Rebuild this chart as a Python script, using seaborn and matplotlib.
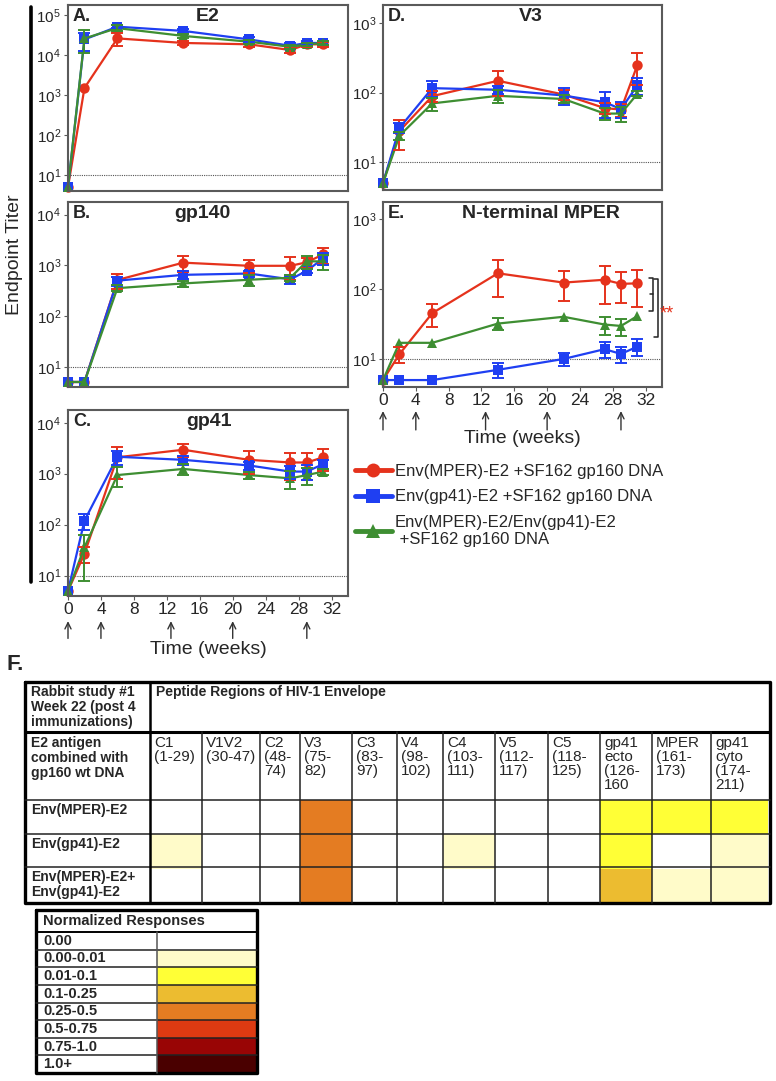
import numpy as np
import pandas as pd
import matplotlib.pyplot as plt
import seaborn as sns
from matplotlib.colors import ListedColormap
from matplotlib.ticker import NullLocator

sns.set_style("ticks")
plt.rcParams['font.family'] = ['Liberation Sans', 'DejaVu Sans']
plt.rcParams['mathtext.fontset'] = 'custom'
plt.rcParams['mathtext.rm'] = 'Liberation Sans'
plt.rcParams['mathtext.it'] = 'Liberation Sans:italic'
plt.rcParams['mathtext.bf'] = 'Liberation Sans:bold'

# ---- time course data (endpoint titers, mean and error) ----
weeks = [0, 2, 6, 14, 22, 27, 29, 31]
immunization_weeks = [0, 4, 12.5, 20, 29]
groups = ["Env(MPER)-E2 +SF162 gp160 DNA",
          "Env(gp41)-E2 +SF162 gp160 DNA",
          "Env(MPER)-E2/Env(gp41)-E2\n +SF162 gp160 DNA"]
colors = ["#e5321c", "#1f3ff2", "#3e8e32"]
markers = ["o", "s", "^"]

# A. E2
e2_mper = [5, 1500, 26000, 20000, 18500, 13300, 18500, 18500]
e2_mper_err = [0, 0, 9000, 2500, 2500, 2000, 2500, 2500]
e2_gp41 = [5, 24500, 51000, 40000, 24500, 17000, 20000, 20000]
e2_gp41_err = [0, 12000, 5000, 4000, 3000, 2500, 2500, 2500]
e2_mix = [5, 26000, 47000, 30000, 21500, 16000, 18500, 20000]
e2_mix_err = [0, 15000, 8000, 3000, 2500, 2000, 2000, 2500]

# B. gp140
gp140_mper = [5, 5, 515, 1130, 980, 980, 1150, 1650]
gp140_mper_err = [0, 0, 175, 380, 270, 470, 250, 580]
gp140_gp41 = [5, 5, 500, 650, 690, 530, 780, 1380]
gp140_gp41_err = [0, 0, 100, 120, 100, 100, 80, 350]
gp140_mix = [5, 5, 355, 440, 520, 570, 1200, 1200]
gp140_mix_err = [0, 0, 50, 60, 120, 80, 350, 400]

# C. gp41
gp41_mper = [5, 27, 2100, 2950, 1870, 1660, 1660, 2100]
gp41_mper_err = [0, 9, 1300, 800, 900, 900, 900, 950]
gp41_gp41 = [5, 120, 2150, 1870, 1450, 1100, 1100, 1550]
gp41_gp41_err = [0, 40, 700, 400, 250, 300, 350, 300]
gp41_mix = [5, 36, 940, 1240, 940, 810, 940, 1100]
gp41_mix_err = [0, 28, 400, 300, 150, 300, 350, 150]

# D. V3
v3_mper = [5, 28, 89, 148, 94, 60, 57, 250]
v3_mper_err = [0, 13, 15, 60, 15, 10, 12, 120]
v3_gp41 = [5, 31, 116, 110, 91, 73, 58, 127]
v3_gp41_err = [0, 5, 30, 15, 25, 30, 15, 35]
v3_mix = [5, 24, 70, 90, 81, 50, 50, 96]
v3_mix_err = [0, 3, 15, 20, 10, 10, 12, 8]

# E. N-terminal MPER
mper_mper = [5, 11.7, 45, 167, 123, 135, 118, 120]
mper_mper_err = [0, 3, 16, 90, 55, 75, 55, 65]
mper_gp41 = [5, 5, 5, 7, 10, 13.8, 11.8, 15]
mper_gp41_err = [0, 0, 0, 1.7, 2, 3.5, 3, 4]
mper_mix = [5, 17, 17, 32, 40, 31, 29.6, 41]
mper_mix_err = [0, 0, 0, 6, 0, 9, 8, 0]

# ---- peptide heat map (F.) ----
region_labels = ["C1\n(1-29)", "V1V2\n(30-47)", "C2\n(48-\n74)", "V3\n(75-\n82)",
                 "C3\n(83-\n97)", "V4\n(98-\n102)", "C4\n(103-\n111)", "V5\n(112-\n117)",
                 "C5\n(118-\n125)", "gp41\necto\n(126-\n160", "MPER\n(161-\n173)",
                 "gp41\ncyto\n(174-\n211)"]
antigen_labels = ["Env(MPER)-E2", "Env(gp41)-E2", "Env(MPER)-E2+\nEnv(gp41)-E2"]
# response level index into the legend bins
resp_mper = [0, 0, 0, 4, 0, 0, 0, 0, 0, 2, 2, 2]
resp_gp41 = [1, 0, 0, 4, 0, 0, 1, 0, 0, 2, 0, 1]
resp_mix = [0, 0, 0, 4, 0, 0, 0, 0, 0, 3, 1, 1]
bin_labels = ["0.00", "0.00-0.01", "0.01-0.1", "0.1-0.25", "0.25-0.5",
              "0.5-0.75", "0.75-1.0", "1.0+"]
bin_colors = ["#ffffff", "#fffbc9", "#ffff36", "#ecbc30", "#e47c22",
              "#dd3a12", "#990505", "#4a0000"]

W, H = 776, 1081
fig = plt.figure(figsize=(W / 100, H / 100), dpi=100)


def rect(x0, y0, x1, y1):
    return [x0 / W, 1 - y1 / H, (x1 - x0) / W, (y1 - y0) / H]


def panel(box, letter, title, title_x, series, ylim, bottom_axis, time_y, arrow_y):
    ax = fig.add_axes(rect(*box))
    rows = []
    for g, (vals, errs) in zip(groups, series):
        for w, v, e in zip(weeks, vals, errs):
            rows.append((w, v, e, g))
    df = pd.DataFrame(rows, columns=["week", "titer", "err", "group"])
    sns.lineplot(data=df, x="week", y="titer", hue="group", style="group",
                 hue_order=groups, style_order=groups, palette=colors,
                 markers=markers, dashes=False, lw=1.6, markersize=7.5,
                 markeredgewidth=0, ax=ax, legend=bottom_axis and letter == "E.")
    for g, c in zip(groups, colors):
        d = df[(df.group == g) & (df.err > 0)]
        ax.errorbar(d.week, d.titer, yerr=d.err, fmt="none", ecolor=c,
                    elinewidth=1.4, capsize=4, capthick=1.4)
    for ln in ax.lines:
        ln.set_clip_on(False)
    ax.set_yscale("log")
    ax.set_ylim(*ylim)
    ax.set_xlim(0, 34)
    ax.yaxis.set_minor_locator(NullLocator())
    ax.axhline(10, color="#555555", lw=0.8, ls=(0, (1, 1)), zorder=0)
    ax.set_xlabel("")
    ax.set_ylabel("")
    for s in ax.spines.values():
        s.set_color("#5a5a5a")
        s.set_linewidth(1.5)
    ax.tick_params(axis="y", labelsize=11, length=3, pad=2, color="#5a5a5a")
    if bottom_axis:
        ax.set_xticks(range(0, 33, 4))
        ax.tick_params(axis="x", labelsize=12.5, length=3, pad=1.5, color="#5a5a5a")
        for w in immunization_weeks:
            ax.annotate("", xy=(w, arrow_y[0]), xytext=(w, arrow_y[1]),
                        xycoords=("data", "axes fraction"),
                        arrowprops=dict(arrowstyle="->,head_length=0.45,head_width=0.22",
                                        lw=1, color="#333333", shrinkA=0, shrinkB=0))
        ax.text(0.5, time_y, "Time (weeks)", transform=ax.transAxes,
                ha="center", va="center", fontsize=14)
    else:
        ax.set_xticks([])
    ax.text(0.018, 0.94, letter, transform=ax.transAxes, fontsize=13,
            fontweight="bold", va="center", ha="left")
    ax.text(title_x, 0.94, title, transform=ax.transAxes, fontsize=14,
            fontweight="bold", va="center", ha="center")
    return ax


panel((68, 5, 348, 191), "A.", "E2", 0.5,
      [(e2_mper, e2_mper_err), (e2_gp41, e2_gp41_err), (e2_mix, e2_mix_err)],
      (10 ** 0.6, 10 ** 5.25), False, 0, None)
panel((68, 202, 348, 387), "B.", "gp140", 0.48,
      [(gp140_mper, gp140_mper_err), (gp140_gp41, gp140_gp41_err), (gp140_mix, gp140_mix_err)],
      (10 ** 0.6, 10 ** 4.25), False, 0, None)
panel((68, 410, 348, 596), "C.", "gp41", 0.505,
      [(gp41_mper, gp41_mper_err), (gp41_gp41, gp41_gp41_err), (gp41_mix, gp41_mix_err)],
      (10 ** 0.6, 10 ** 4.25), True, -0.285, (-0.135, -0.228))
panel((383, 5, 662, 190), "D.", "V3", 0.53,
      [(v3_mper, v3_mper_err), (v3_gp41, v3_gp41_err), (v3_mix, v3_mix_err)],
      (10 ** 0.6, 10 ** 3.26), False, 0, None)
axE = panel((383, 202, 662, 387), "E.", "N-terminal MPER", 0.566,
            [(mper_mper, mper_mper_err), (mper_gp41, mper_gp41_err), (mper_mix, mper_mix_err)],
            (10 ** 0.6, 10 ** 3.24), True, -0.276, (-0.13, -0.232))

# legend moved to the figure
handles, labels = axE.get_legend_handles_labels()
axE.get_legend().remove()
leg = fig.legend(handles, labels, loc="upper left", bbox_to_anchor=(355 / W, 1 - 464 / H),
                 frameon=False, fontsize=12, handlelength=2.2, handletextpad=0.2,
                 borderpad=0, borderaxespad=0, labelspacing=0.62)
for h in leg.legend_handles:
    h.set_linewidth(3.5)
    h.set_markersize(10)

# overlay in pixel coordinates for annotations and table grid
ov = fig.add_axes([0, 0, 1, 1], zorder=10)
ov.set_xlim(0, W)
ov.set_ylim(H, 0)
ov.axis("off")
ov.patch.set_alpha(0)

# y label and bar
ov.plot([31, 31], [7, 582], color="black", lw=2.6)
ov.text(15, 255, "Endpoint Titer", rotation=90, fontsize=14, ha="center", va="center")

# significance brackets in panel E
ov.plot([649, 653, 653, 649], [278, 278, 311, 311], color="#222222", lw=1.1)
ov.plot([650, 653], [294, 294], color="#222222", lw=1.1)
ov.plot([654, 658, 658, 654], [279, 279, 337, 337], color="#222222", lw=1.1)
ov.text(660, 314, "**", color="#e5321c", fontsize=13, ha="left", va="center")

# ---- F. table ----
ov.text(7, 664, "F.", fontsize=16, fontweight="bold", va="center", ha="left")
col_widths = [52, 58, 40, 52, 45, 46, 52, 53, 52, 52, 59, 57]
cx0, cy0, cx1, cy1 = 150, 800, 768, 903
levels = np.array([resp_mper, resp_gp41, resp_mix])
cmap = ListedColormap(bin_colors)
axF = fig.add_axes(rect(cx0, cy0, cx1, cy1))
sns.heatmap(np.repeat(levels, col_widths, axis=1), cmap=cmap, vmin=-0.5, vmax=7.5,
            cbar=False, xticklabels=False, yticklabels=False, ax=axF)

edges = np.concatenate([[0], np.cumsum(col_widths)]) + cx0
row_lines = [800, 834, 867]
ov.plot([25, 770, 770, 25, 25], [682, 682, 903, 903, 682], color="black", lw=2.4)
ov.plot([25, 770], [732, 732], color="black", lw=2.2)
for y in row_lines:
    ov.plot([25, 770], [y, y], color="#222222", lw=1.1)
ov.plot([150, 150], [682, 903], color="black", lw=1.8)
for x in edges[1:-1]:
    ov.plot([x, x], [732, 903], color="#222222", lw=1.1)

tfont = dict(fontsize=10, fontweight="bold", va="top", ha="left", linespacing=1.1)
ov.text(31, 685, "Rabbit study #1\nWeek 22 (post 4\nimmunizations)", **tfont)
ov.text(156, 685, "Peptide Regions of HIV-1 Envelope", **tfont)
ov.text(31, 736, "E2 antigen\ncombined with\ngp160 wt DNA", **tfont)
for lab, y in zip(antigen_labels, row_lines):
    ov.text(31, y + 3, lab, **tfont)
for lab, x in zip(region_labels, edges[:-1]):
    ov.text(x + 4, 736, lab, fontsize=11, va="top", ha="left", linespacing=1.0)

# normalized responses key
kx0, ky0, kx1, ky1 = 36, 910, 257, 1073
kh = 932
axK = fig.add_axes(rect(157, kh, 256, ky1))
sns.heatmap(np.arange(len(bin_labels)).reshape(-1, 1), cmap=cmap, vmin=-0.5, vmax=7.5,
            cbar=False, xticklabels=False, yticklabels=False, ax=axK)
ov.plot([kx0, kx1, kx1, kx0, kx0], [ky0, ky0, ky1, ky1, ky0], color="black", lw=2.4)
rh = (ky1 - kh) / len(bin_labels)
ov.plot([kx0, kx1], [kh, kh], color="black", lw=1.4)
for i in range(1, len(bin_labels)):
    ov.plot([kx0, kx1], [kh + i * rh] * 2, color="#222222", lw=1.1)
ov.plot([157, 157], [kh, ky1], color="#555555", lw=1.1)
ov.text(43, 921, "Normalized Responses", fontsize=10.5, fontweight="bold", va="center")
for i, lab in enumerate(bin_labels):
    ov.text(43, kh + (i + 0.5) * rh, lab, fontsize=10.5, fontweight="bold", va="center")

fig.savefig("out.png", dpi=100)
